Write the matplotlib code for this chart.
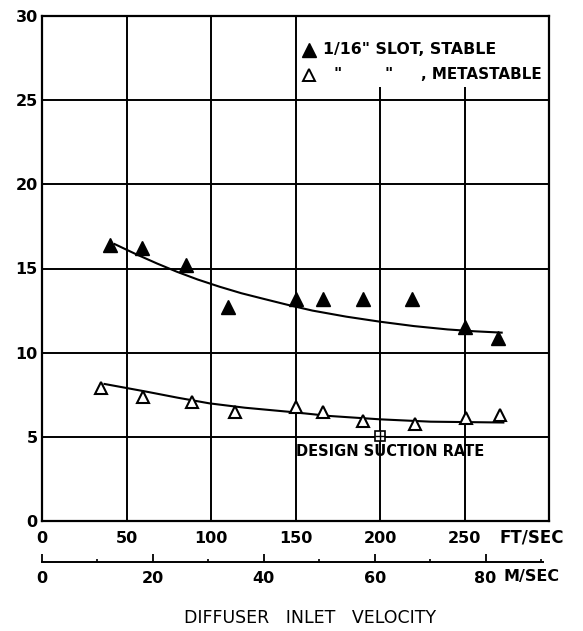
import matplotlib
matplotlib.use("Agg")
import matplotlib.pyplot as plt
from matplotlib.patches import Rectangle

# ---- data ----
stable_x = [40, 59, 85, 110, 150, 166, 190, 219, 250, 270]
stable_y = [16.4, 16.2, 15.2, 12.7, 13.2, 13.2, 13.2, 13.2, 11.5, 10.85]
meta_x = [35, 60, 89, 114, 150, 166, 190, 221, 251, 271]
meta_y = [7.9, 7.35, 7.05, 6.45, 6.75, 6.45, 5.95, 5.75, 6.1, 6.3]
stable_curve_x = [43, 55, 68, 80, 92, 105, 118, 131, 145, 160, 180, 200, 220, 240, 256, 272]
stable_curve_y = [16.45, 15.88, 15.3, 14.8, 14.35, 13.92, 13.53, 13.2, 12.85, 12.5, 12.14, 11.84, 11.58, 11.38, 11.27, 11.19]
meta_curve_x = [37, 62, 80, 99, 120, 148, 170, 200, 230, 273]
meta_curve_y = [8.14, 7.68, 7.33, 6.99, 6.73, 6.47, 6.24, 6.04, 5.9, 5.85]
design_x = [200]
design_y = [5.05]
ft_ticks = [0, 50, 100, 150, 200, 250]
y_ticks = [0, 5, 10, 15, 20, 25, 30]
ms_major = [0, 20, 40, 60, 80]
ms_minor = [10, 30, 50, 70, 90]

W, H = 583, 631
fig = plt.figure(figsize=(W / 100, H / 100), dpi=100)
L, R, T, B = 42, 549, 16, 521
ax = fig.add_axes([L / W, 1 - B / H, (R - L) / W, (B - T) / H])
ax.set_xlim(0, 300)
ax.set_ylim(0, 30)
ax.set_xticks(list(range(0, 301, 50)))
ax.set_yticks(y_ticks)
ax.set_xticklabels([str(v) for v in ft_ticks] + [""])
ax.set_yticklabels([str(v) for v in y_ticks])
ax.grid(True, color="black", linewidth=1.4, zorder=1)
ax.set_axisbelow(True)
for s in ax.spines.values():
    s.set_linewidth(1.6)
ax.tick_params(length=0, labelsize=11.5)
ax.tick_params(axis="x", pad=7)
ax.tick_params(axis="y", pad=3)
for lab in ax.get_xticklabels() + ax.get_yticklabels():
    lab.set_fontweight("bold")

# legend white area
ax.add_patch(Rectangle((151, 25.8), 148.5, 4.15, facecolor="white",
                       edgecolor="none", zorder=2))

ax.plot(stable_curve_x, stable_curve_y, color="black", lw=1.5, zorder=3)
ax.plot(meta_curve_x, meta_curve_y, color="black", lw=1.5, zorder=3)
ax.plot(stable_x, stable_y, ls="none", marker="^", ms=10.5,
        color="black", zorder=4)
ax.plot(meta_x, meta_y, ls="none", marker="^", ms=9, mfc="white",
        mec="black", mew=1.5, zorder=4)
ax.plot(design_x, design_y, ls="none", marker="s", ms=7, mfc="white",
        mec="black", mew=1.2, zorder=4)
ax.plot(design_x, design_y, ls="none", marker="+", ms=7, mec="black",
        mew=1.0, zorder=5)

ax.text(150, 4.1, "DESIGN SUCTION RATE", fontsize=10.5, fontweight="bold",
        ha="left", va="center", zorder=5)

# legend
ax.plot([158], [28.0], ls="none", marker="^", ms=10, color="black", zorder=5)
ax.plot([158], [26.5], ls="none", marker="^", ms=9, mfc="white",
        mec="black", mew=1.4, zorder=5)
ax.text(166, 28.0, '1/16" SLOT, STABLE', fontsize=11.3, fontweight="bold",
        ha="left", va="center", zorder=5)
ax.text(175, 26.5, '"', fontsize=11.3, fontweight="bold",
        ha="center", va="center", zorder=5)
ax.text(205, 26.5, '"', fontsize=11.3, fontweight="bold",
        ha="center", va="center", zorder=5)
ax.text(224.5, 26.5, ', METASTABLE', fontsize=10.9, fontweight="bold",
        ha="left", va="center", zorder=5)

# FT/SEC label
fig.text(532 / W, 1 - 537 / H, "FT/SEC", fontsize=12, fontweight="bold",
         ha="center", va="center")

# secondary m/s axis
yb = 561.5
ax2 = fig.add_axes([L / W, 1 - yb / H, (R - L) / W, 0.0005])
ax2.set_xlim(0, 300 * 0.3048)
ax2.set_ylim(0, 1)
for k in ["top", "left", "right"]:
    ax2.spines[k].set_visible(False)
ax2.spines["bottom"].set_linewidth(1.4)
ax2.spines["bottom"].set_bounds(0, 90.4)
ax2.patch.set_visible(False)
ax2.set_yticks([])
ax2.set_xticks(ms_major)
ax2.set_xticks(ms_minor, minor=True)
ax2.set_xticklabels([str(v) for v in ms_major])
ax2.tick_params(axis="x", which="major", direction="in", length=5.5,
                width=1.3, labelsize=11.5, pad=6.5)
ax2.tick_params(axis="x", which="minor", direction="in", length=2,
                width=1.2)
for lab in ax2.get_xticklabels():
    lab.set_fontweight("bold")
fig.text(532 / W, 1 - 577 / H, "M/SEC", fontsize=11.5, fontweight="bold",
         ha="center", va="center")

fig.text(310 / W, 1 - 618 / H, "DIFFUSER   INLET   VELOCITY", fontsize=12.5,
         ha="center", va="center")

fig.savefig("out.png", dpi=100)
